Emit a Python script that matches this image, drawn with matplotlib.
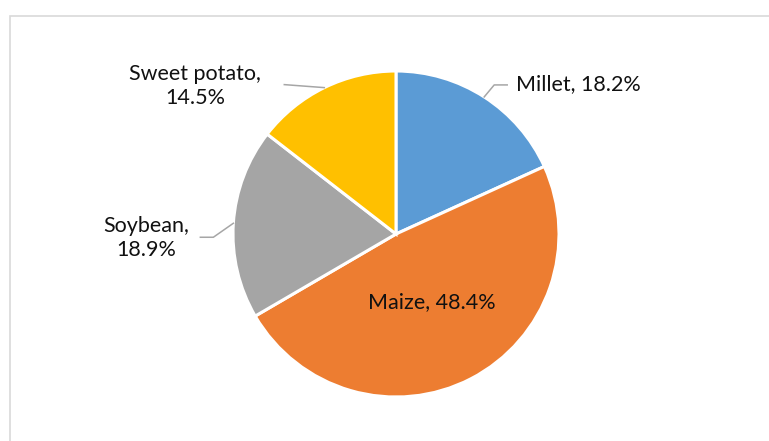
import numpy as np
import matplotlib.pyplot as plt
from matplotlib.patches import Rectangle

crops = ['Millet', 'Maize', 'Soybean', 'Sweet potato']
shares = [18.2, 48.4, 18.9, 14.5]
colors = ['#5B9BD5', '#ED7D31', '#A5A5A5', '#FFC000']

W, H = 769, 441
cx, cy, r = 396, H - 234, 163

plt.rcParams['font.family'] = ['Lato', 'DejaVu Sans']

fig = plt.figure(figsize=(W / 100, H / 100), dpi=100)
fig.patches.append(Rectangle((10 / W, -0.1), 1.2, (H - 16) / H + 0.1,
                             transform=fig.transFigure, fill=False,
                             edgecolor='#D9D9D9', linewidth=1.2))
ax = fig.add_axes([0, 0, 1, 1])

wedges, _ = ax.pie(shares, colors=colors, startangle=90, counterclock=False,
                   center=(cx, cy), radius=r,
                   wedgeprops=dict(edgecolor='white', linewidth=2.2))

# pie() rescales the axes, so fix the pixel-sized frame afterwards
ax.set_xlim(0, W)
ax.set_ylim(0, H)
ax.set_aspect('equal')
ax.axis('off')

def edge_point(w):
    a = np.deg2rad((w.theta1 + w.theta2) / 2)
    return cx + r * np.cos(a), cy + r * np.sin(a)

lead = dict(color='#A6A6A6', linewidth=1.1)
txt = dict(fontsize=15.5, color='#111111')

# Millet: elbow leader going up-right
x0, y0 = edge_point(wedges[0])
ax.plot([x0, x0 + 10, x0 + 23], [y0, y0 + 12, y0 + 12], **lead)
ax.text(516, H - 84, f'{crops[0]}, {shares[0]}%', ha='left', va='center', **txt)

# Maize: label inside the slice
ax.text(432, H - 302, f'{crops[1]}, {shares[1]}%', ha='center', va='center', **txt)

# Soybean
x0, y0 = edge_point(wedges[2])
ax.plot([x0, x0 - 20, x0 - 33], [y0, y0 - 14, y0 - 14], **lead)
ax.text(146, H - 238, f'{crops[2]},\n{shares[2]}%', ha='center', va='center',
        linespacing=1.3, **txt)

# Sweet potato
x0, y0 = edge_point(wedges[3])
ax.plot([x0, x0 - 40], [y0, y0 + 3], **lead)
ax.text(195, H - 86, f'{crops[3]},\n{shares[3]}%', ha='center', va='center',
        linespacing=1.3, **txt)

fig.savefig('out.png', dpi=100)
